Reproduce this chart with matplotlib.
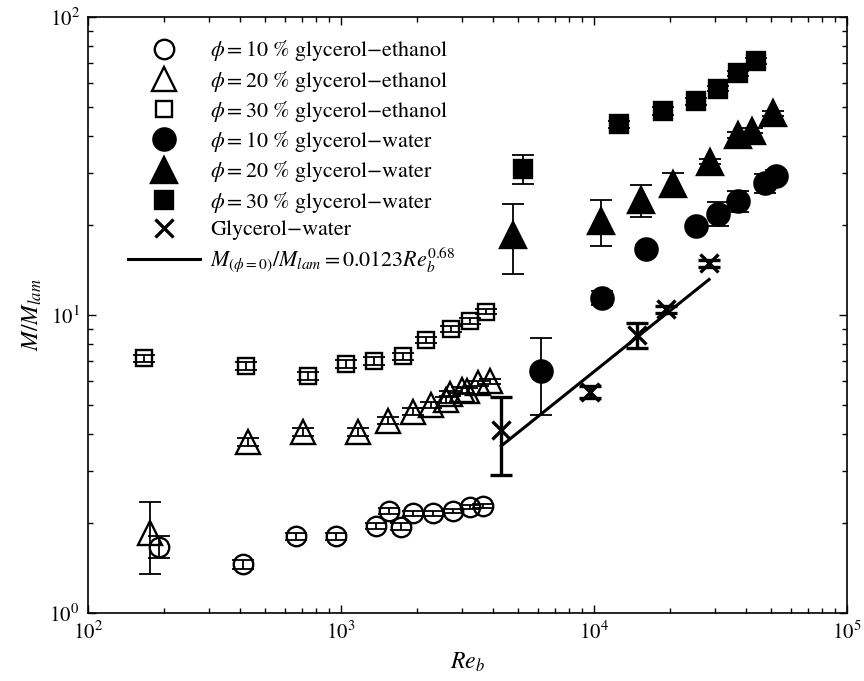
import numpy as np
import matplotlib
matplotlib.use("Agg")
import matplotlib.pyplot as plt

plt.rcParams['font.family'] = ['STIXGeneral', 'DejaVu Serif']
plt.rcParams['mathtext.fontset'] = 'stix'

# ---- data ----
x_eth10 = [190, 411, 662, 955, 1374, 1542, 1725, 1931, 2317, 2780, 3236, 3650]
y_eth10 = [1.67, 1.46, 1.81, 1.81, 1.96, 2.20, 1.95, 2.16, 2.16, 2.20, 2.27, 2.29]
e_eth10 = [0.14, 0.05, 0.05, 0.05, 0.05, 0.05, 0.05, 0.04, 0.04, 0.04, 0.04, 0.04]

x_eth20 = [176, 430, 709, 1170, 1538, 1931, 2270, 2600, 2700, 3000, 3150, 3490, 3880]
y_eth20 = [1.85, 3.76, 4.06, 4.06, 4.42, 4.74, 4.99, 5.2, 5.45, 5.6, 5.55, 5.9, 6.0]
e_eth20 = [0.5, 0.12, 0.12, 0.12, 0.12, 0.12, 0.12, 0.12, 0.12, 0.12, 0.12, 0.12, 0.12]

x_eth30 = [166, 421, 743, 1047, 1349, 1763, 2168, 2722, 3236, 3742]
y_eth30 = [7.15, 6.74, 6.24, 6.85, 7.01, 7.28, 8.25, 9.0, 9.55, 10.26]
e_eth30 = [0.2, 0.2, 0.2, 0.2, 0.2, 0.2, 0.2, 0.2, 0.2, 0.2]

x_wat10 = [6150, 10790, 16000, 25230, 30820, 37150, 47430, 52400]
y_wat10 = [6.5, 11.4, 16.7, 19.9, 21.9, 24.1, 27.7, 29.3]
e_wat10 = [1.9, 0.6, 0.5, 0.5, 2.0, 1.9, 2.0, 1.4]

x_wat20 = [4800, 10660, 15280, 20560, 28760, 37150, 42230, 51180]
y_wat20 = [18.6, 20.7, 24.3, 27.5, 32.7, 40.2, 41.6, 47.5]
e_wat20 = [4.9, 3.7, 2.9, 2.4, 0.6, 1.0, 0.8, 0.8]

x_wat30 = [5260, 12560, 18790, 25290, 30820, 36980, 43560]
y_wat30 = [30.9, 43.7, 48.4, 52.1, 57.5, 64.7, 71.2]
e_wat30 = [3.4, 1.2, 1.5, 1.5, 1.2, 1.2, 1.5]

x_phi0 = [4285, 9640, 14760, 19270, 28570]
y_phi0 = [4.11, 5.53, 8.57, 10.45, 14.9]
e_phi0 = [1.2, 0.25, 0.85, 0.3, 0.4]

fit_coef = 0.0123
fit_exp = 0.68
fit_range = [4300, 28500]

labels = [
    r'$\phi = 10$ % glycerol−ethanol',
    r'$\phi = 20$ % glycerol−ethanol',
    r'$\phi = 30$ % glycerol−ethanol',
    r'$\phi = 10$ % glycerol−water',
    r'$\phi = 20$ % glycerol−water',
    r'$\phi = 30$ % glycerol−water',
    'Glycerol−water',
    r'$M_{(\phi=0)}/M_{lam} = 0.0123Re_b^{0.68}$',
]

fig = plt.figure(figsize=(8.64, 6.81), dpi=100)
ax = fig.add_axes([88/864, 1-613/681, (847-88)/864, (613-17)/681])
ax.set_xscale('log')
ax.set_yscale('log')

series = [
    (x_eth10, y_eth10, e_eth10, 'o', 14, 'none'),
    (x_eth20, y_eth20, e_eth20, '^', 17, 'none'),
    (x_eth30, y_eth30, e_eth30, 's', 12, 'none'),
    (x_wat10, y_wat10, e_wat10, 'o', 16, 'black'),
    (x_wat20, y_wat20, e_wat20, '^', 19, 'black'),
    (x_wat30, y_wat30, e_wat30, 's', 13, 'black'),
]

handles = []
for (xs, ys, es, m, ms, fc), lab in zip(series, labels[:6]):
    ax.errorbar(xs, ys, yerr=es, fmt='none', ecolor='black', elinewidth=1.3,
                capsize=8, capthick=1.3, zorder=3)
    h, = ax.plot(xs, ys, linestyle='none', marker=m, ms=ms, mfc=fc,
                 mec='black', mew=1.7, label=lab, zorder=2)
    handles.append(h)

ax.errorbar(x_phi0, y_phi0, yerr=e_phi0, fmt='none', ecolor='black',
            elinewidth=2.4, capsize=8, capthick=2.4, zorder=3)
h, = ax.plot(x_phi0, y_phi0, linestyle='none', marker='x', ms=13, mew=2.4,
             color='black', label=labels[6], zorder=4)
handles.append(h)

xf = np.array(fit_range, dtype=float)
xf = np.logspace(np.log10(xf[0]), np.log10(xf[1]), 50)
h, = ax.plot(xf, fit_coef * xf ** fit_exp, color='black', lw=2.2,
             label=labels[7], zorder=4)
handles.append(h)

ax.set_xlim(1e2, 1e5)
ax.set_ylim(1e0, 1e2)

ax.tick_params(which='both', direction='in', top=True, right=True,
               labelsize=15, width=1.0)
ax.tick_params(which='major', length=6, pad=6)
ax.tick_params(which='minor', length=3.5)
for sp in ax.spines.values():
    sp.set_linewidth(1.2)

ax.set_xlabel(r'$Re_b$', fontsize=17, labelpad=5)
ax.set_ylabel(r'$M/M_{lam}$', fontsize=17, labelpad=4)

leg = ax.legend(handles=handles, loc='upper left', bbox_to_anchor=(0.032, 0.99),
                frameon=False, fontsize=15.8, handlelength=3.3,
                handletextpad=0.45, labelspacing=0.24, borderpad=0.2)

fig.savefig('out.png', dpi=100)
